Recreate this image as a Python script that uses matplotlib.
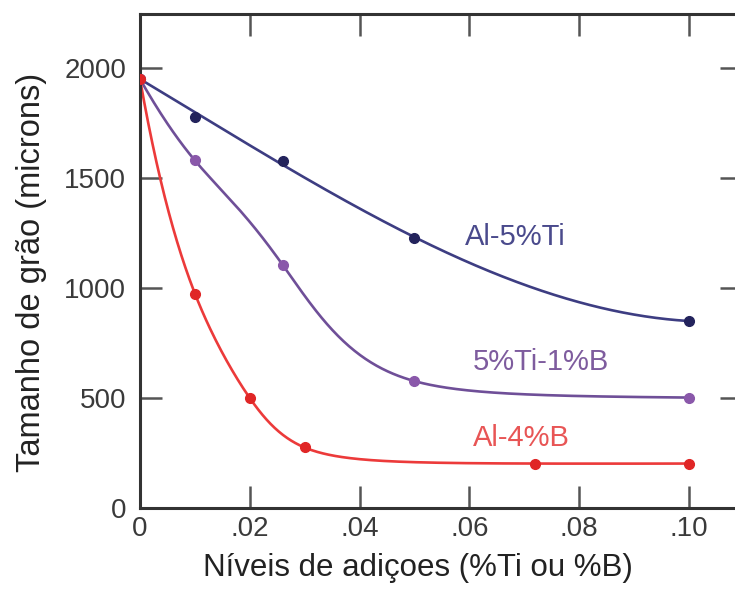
import numpy as np
import matplotlib
matplotlib.use("Agg")
import matplotlib.pyplot as plt

plt.rcParams['font.family'] = ['Liberation Sans', 'DejaVu Sans']

# dados
x_ti = [0, 0.010, 0.026, 0.050, 0.100]
y_ti = [1950, 1776, 1578, 1226, 850]

x_tib = [0, 0.010, 0.026, 0.050, 0.100]
y_tib = [1950, 1580, 1105, 577, 502]

x_b = [0, 0.010, 0.020, 0.030, 0.072, 0.100]
y_b = [1950, 975, 500, 275, 202, 202]

x_ticks = [0, 0.02, 0.04, 0.06, 0.08, 0.10]
x_ticklabels = ["0", ".02", ".04", ".06", ".08", ".10"]
y_ticks = [0, 500, 1000, 1500, 2000]


# spline cubica natural
def natural_spline(x, y, n=400):
    x = np.asarray(x, float)
    y = np.asarray(y, float)
    k = len(x)
    h = np.diff(x)
    d = np.diff(y) / h
    A = np.zeros((k, k))
    b = np.zeros(k)
    A[0, 0] = 1
    A[-1, -1] = 1
    for i in range(1, k - 1):
        A[i, i - 1] = h[i - 1]
        A[i, i] = 2 * (h[i - 1] + h[i])
        A[i, i + 1] = h[i]
        b[i] = 6 * (d[i] - d[i - 1])
    M = np.linalg.solve(A, b)
    xx = np.linspace(x[0], x[-1], n)
    i = np.clip(np.searchsorted(x, xx) - 1, 0, k - 2)
    hi = h[i]
    a = x[i + 1] - xx
    c = xx - x[i]
    yy = (M[i] * a**3 + M[i + 1] * c**3) / (6 * hi) \
        + (y[i] / hi - M[i] * hi / 6) * a + (y[i + 1] / hi - M[i + 1] * hi / 6) * c
    return xx, yy


# curva suave: spline em escala log acima de um "piso",
# ou (floor=None) ajuste cubico com pesos maiores nas pontas
def smooth_curve(xs, ys, floor):
    ys = np.asarray(ys, float)
    if floor is None:
        w = np.ones(len(xs))
        w[0] = w[-1] = 10
        p = np.polyfit(xs, ys, 3, w=w)
        xx = np.linspace(xs[0], xs[-1], 400)
        return xx, np.polyval(p, xx)
    xx, l2 = natural_spline(xs, np.log(ys - floor))
    return xx, np.exp(l2) + floor


fig = plt.figure(figsize=(7.35, 5.9), dpi=100)
ax = fig.add_axes([0.1905, 0.139, 0.819, 0.837])

series = [
    (x_ti, y_ti, "#3d3d82", "#23235c", None),
    (x_tib, y_tib, "#6f4f98", "#8a58aa", 490),
    (x_b, y_b, "#ec3a3a", "#e02626", 194),
]
for xs, ys, lc, mc, fl in series:
    xx, yy = smooth_curve(xs, ys, fl)
    ax.plot(xx, yy, color=lc, linewidth=1.9, zorder=2)
    ax.plot(xs, ys, 'o', color=mc, markersize=7, zorder=3)

ax.text(0.0684, 1232, "Al-5%Ti", color="#4a4a8c", fontsize=21, va="center", ha="center")
ax.text(0.0731, 664, "5%Ti-1%B", color="#7e5c9e", fontsize=21, va="center", ha="center")
ax.text(0.0695, 318, "Al-4%B", color="#e85555", fontsize=21, va="center", ha="center")

ax.set_xlim(0, 0.1097)
ax.set_ylim(0, 2245)
ax.set_xticks(x_ticks)
ax.set_xticklabels(x_ticklabels)
ax.set_yticks(y_ticks)
ax.tick_params(direction="in", length=16, width=1.8, color="#555555",
               labelsize=20, labelcolor="#3a3a3a", top=True, right=True)
ax.tick_params(axis="x", pad=6)
ax.tick_params(axis="y", pad=10)
for s in ax.spines.values():
    s.set_linewidth(2.2)
    s.set_color("#333333")

ax.set_xlabel("Níveis de adiçoes (%Ti ou %B)", fontsize=22.5, color="#222222")
ax.set_ylabel("Tamanho de grão (microns)", fontsize=23.5, color="#222222")
ax.xaxis.set_label_coords(0.462, -0.091)
ax.yaxis.set_label_coords(-0.1545, 0.478)

fig.savefig("out.png", dpi=100)
